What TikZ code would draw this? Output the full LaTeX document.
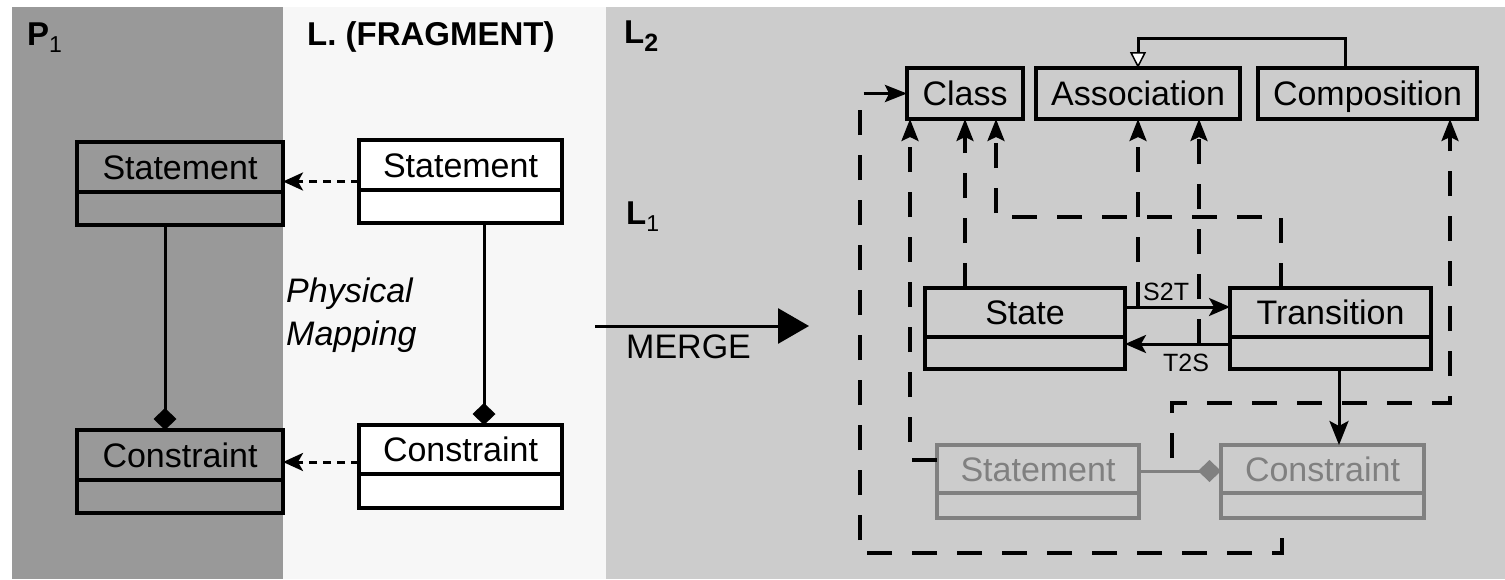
\documentclass[tikz,border=0pt]{standalone}
\usepackage{fontspec}
\setmainfont{Liberation Sans}
\usetikzlibrary{arrows.meta,calc}

\definecolor{panelP}{RGB}{153,153,153}
\definecolor{panelL}{RGB}{247,247,247}
\definecolor{panelR}{RGB}{204,204,204}
\definecolor{faded}{RGB}{128,128,128}

\tikzset{
  frame/.style={draw=black, line width=3.2pt, outer sep=0pt, inner sep=0pt},
  whiteframe/.style={frame, fill=white},
  fadedframe/.style={frame, draw=faded},
  boxname/.style={inner sep=0pt, text height=24.5pt, text depth=0pt,
    font=\fontsize{34}{40}\selectfont},
  fadedname/.style={boxname, text=faded},
  heading/.style={anchor=base west, inner sep=0pt, font=\bfseries\fontsize{33}{40}\selectfont},
  plain/.style={anchor=base west, inner sep=0pt, font=\fontsize{34}{40}\selectfont},
  small/.style={anchor=base west, inner sep=0pt, font=\fontsize{25}{30}\selectfont},
  link/.style={line width=3pt},
  owns/.style={link, -{Diamond[length=22pt,width=23pt]}},
  mapsto/.style={line width=3pt, dash pattern=on 8pt off 6pt,
    -{Stealth[length=20pt,width=18pt,inset=5pt]}},
  conform/.style={line width=3.2pt, dash pattern=on 25pt off 20pt,
    -{Stealth[length=22pt,width=17pt,inset=4pt]}},
  navigate/.style={link, -{Stealth[length=21pt,width=18pt,inset=5pt]}},
}

% class box: frame style, text style, name, left, top, right, divider, bottom, title
\newcommand{\umlclass}[9]{%
  \node[#1, minimum width={(#6-#4)*1pt}, minimum height={(#8-#5)*1pt}]
    (#3) at ({(#4+#6)/2},{(#5+#8)/2}) {};
  \draw[#1] (#3.west |- 0,#7) -- (#3.east |- 0,#7);
  \node[#2] (#3-title) at ({(#4+#6)/2},{(#5+#7)/2}) {#9};
}
% single-compartment box: frame style, name, left, top, right, bottom, title
\newcommand{\umlsimple}[7]{%
  \node[#1, minimum width={(#5-#3)*1pt}, minimum height={(#6-#4)*1pt}]
    (#2) at ({(#3+#5)/2},{(#4+#6)/2}) {};
  \node[boxname] (#2-title) at ({(#3+#5)/2},{(#4+#6)/2}) {#7};
}

\begin{document}
\begin{tikzpicture}[x=1pt, y=-1pt]
\useasboundingbox (0,0) rectangle (1505,579);
\fill[white] (0,0) rectangle (1505,579);

% panels
\fill[panelP] (12,7) rectangle (283,579);
\fill[panelL] (283,7) rectangle (606,579);
\fill[panelR] (606,7) rectangle (1505,579);

% headings
\node[heading] (p1-head) at (27,45) {P\raisebox{-7pt}{\mdseries\fontsize{23}{23}\selectfont 1}};
\node[heading] (frag-head) at (307,45) {L. (FRAGMENT)};
\node[heading] (l2-head) at (624,43) {L\raisebox{-8pt}{\fontsize{25}{25}\selectfont 2}};
\node[heading] (l1-head) at (626,224) {L\raisebox{-7pt}{\mdseries\fontsize{23}{23}\selectfont 1}};

% physical layer
\umlclass{frame}{boxname}{p-stmt}{77}{142}{283}{192}{225}{Statement}
\umlclass{frame}{boxname}{p-cons}{77}{430}{283}{480}{513}{Constraint}
\draw[owns] ([xshift=-15pt]p-stmt.south) -- ([xshift=-15pt]p-cons.north);

% logical fragment
\umlclass{whiteframe}{boxname}{l-stmt}{359}{140}{562}{190}{223}{Statement}
\umlclass{whiteframe}{boxname}{l-cons}{359}{425}{562}{474}{508}{Constraint}
\draw[owns] ([xshift=23.5pt]l-stmt.south) -- ([xshift=23.5pt]l-cons.north);

\draw[mapsto] (l-stmt.west) -- (l-stmt.west -| p-stmt.east);
\draw[mapsto] ([yshift=4.5pt]l-cons.west) -- ([yshift=4.5pt]l-cons.west -| p-cons.east);

\node[anchor=base west, inner sep=0pt, align=left,
  font=\itshape\fontsize{34}{43}\selectfont] (phys-map) at (286,345) {Physical\\Mapping};

% merge step
\coordinate (merge-from) at (595,326);
\coordinate (merge-to) at (809,326);
\draw[link, -{Triangle[length=31pt,width=35pt]}] (merge-from) -- (merge-to);
\node[plain] (merge-label) at (626,358) {MERGE};

% merged metamodel
\umlsimple{frame}{class}{907}{68}{1023}{119}{Class}
\umlsimple{frame}{assoc}{1036}{68}{1240}{119}{Association}
\umlsimple{frame}{comp}{1258}{68}{1477}{119}{Composition}

\umlclass{frame}{boxname}{state}{925}{288}{1125}{337}{369}{State}
\umlclass{frame}{boxname}{trans}{1230}{288}{1431}{337}{369}{Transition}
\umlclass{fadedframe}{fadedname}{m-stmt}{937}{445}{1139}{493}{518}{Statement}
\umlclass{fadedframe}{fadedname}{m-cons}{1221}{445}{1424}{493}{518}{Constraint}

% composition specialises association
\draw[link, -{Triangle[length=16pt,width=16pt,fill=white,line width=1.5pt]}]
  ([xshift=-22.5pt]comp.north) -- ([xshift=-22.5pt]comp.north |- 0,38) -| (assoc.north);

% associations between state and transition
\draw[navigate] ([yshift=21.5pt]state.east) -- ([yshift=21.5pt]state.east -| trans.west);
\draw[navigate] ([yshift=-15.5pt]trans.west) -- ([yshift=-15.5pt]trans.west -| state.east);
\node[small] (s2t-label) at (1143,300) {S2T};
\node[small] (t2s-label) at (1163,371) {T2S};

\draw[link, -{Stealth[length=24pt,width=19pt,inset=5pt]}]
  ([xshift=8.5pt]trans.south) -- ([xshift=8.5pt]trans.south |- m-cons.north);

\draw[link, draw=faded, -{Diamond[length=23pt,width=22pt]}]
  ([yshift=10.5pt]m-stmt.east) -- ([yshift=10.5pt]m-stmt.east -| m-cons.west);

% instance-of links
\coordinate (t2s-port) at ([xshift=61pt]assoc.south);
\coordinate (comp-port) at ([xshift=82.5pt]comp.south);
\coordinate (trans-turn) at (996,217);
\coordinate (compo-link) at (1172,471);

\draw[conform] ([yshift=21.5pt]m-stmt.west) -| ([xshift=3pt]class.south west);
\draw[conform] (state.north -| class.south) -- (class.south);
\draw[conform] ([xshift=-49.5pt]trans.north) |- (trans-turn) -- (trans-turn |- class.south);
\draw[conform] ([yshift=21.5pt]state.east -| assoc.south) -- (assoc.south);
\draw[conform] ([yshift=-15.5pt]trans.west -| t2s-port) -- (t2s-port);
\draw[conform, dash phase=32pt] (compo-link) -- (compo-link |- 0,403) -| (comp-port);
\draw[conform, dash phase=25pt] ([xshift=-40.5pt]m-cons.south) |- (860,553) |- (class.west);
\end{tikzpicture}
\end{document}
